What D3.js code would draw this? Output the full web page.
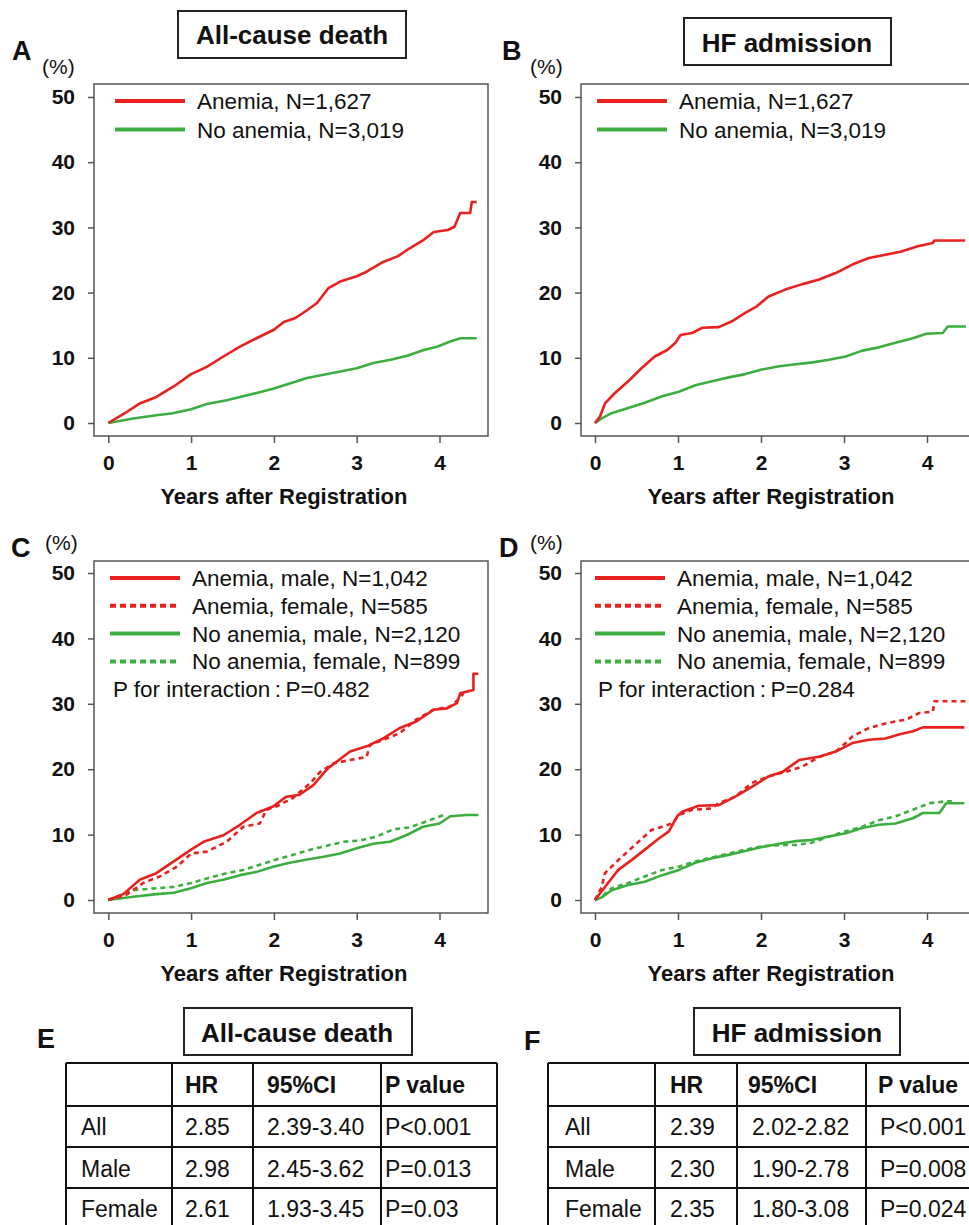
<!DOCTYPE html>
<html>
<head>
<meta charset="utf-8">
<script src="https://cdn.jsdelivr.net/npm/d3@7"></script>
<style>
  body { margin: 0; background: #fff; }
  svg { display: block; }
  text { font-family: "Liberation Sans", Arial, Helvetica, sans-serif; fill: #111; }
  .tick text { font-size: 21px; font-weight: bold; fill: #111; }
</style>
</head>
<body>
<svg id="fig" width="969" height="1225"></svg>
<script>
'use strict';

var yearTicks = [0, 1, 2, 3, 4];
var pctTicks = [0, 10, 20, 30, 40, 50];

// [years, cumulative incidence %]
// A - all-cause death
var deathAnemia = [[0,0],[0.2,1.5],[0.38,3.0],[0.58,4.0],[0.79,5.6],[1.0,7.5],[1.19,8.6],[1.39,10.2],[1.59,11.7],[1.79,13.0],[2.0,14.3],[2.12,15.5],[2.26,16.1],[2.4,17.3],[2.52,18.4],[2.66,20.7],[2.8,21.7],[3.0,22.5],[3.12,23.2],[3.32,24.7],[3.5,25.6],[3.64,26.8],[3.81,28.1],[3.93,29.3],[4.1,29.6],[4.18,30.1],[4.25,32.2],[4.37,32.2],[4.39,33.9],[4.45,33.9]];
var deathNoAnemia = [[0,0],[0.3,0.7],[0.58,1.2],[0.78,1.5],[1.0,2.1],[1.19,2.9],[1.43,3.5],[1.59,4.0],[1.79,4.6],[2.0,5.3],[2.2,6.1],[2.4,6.9],[2.6,7.4],[2.8,7.9],[3.0,8.4],[3.2,9.2],[3.41,9.7],[3.61,10.3],[3.81,11.2],[3.97,11.7],[4.13,12.5],[4.25,13.0],[4.45,13.0]];

// B - HF admission
var hfAnemia = [[0,0],[0.06,1.0],[0.12,3.0],[0.24,4.6],[0.4,6.4],[0.56,8.4],[0.72,10.2],[0.87,11.2],[0.97,12.3],[1.03,13.5],[1.17,13.8],[1.29,14.6],[1.49,14.7],[1.65,15.6],[1.81,16.9],[1.95,17.9],[2.09,19.4],[2.3,20.5],[2.5,21.3],[2.7,22.0],[2.9,23.0],[3.1,24.3],[3.3,25.3],[3.5,25.8],[3.69,26.3],[3.89,27.1],[4.07,27.6],[4.09,28.0],[4.46,28.0]];
var hfNoAnemia = [[0,0],[0.08,0.7],[0.2,1.5],[0.4,2.3],[0.6,3.1],[0.81,4.1],[1.01,4.8],[1.21,5.8],[1.41,6.4],[1.61,7.0],[1.81,7.5],[2.01,8.2],[2.22,8.7],[2.42,9.0],[2.62,9.3],[2.82,9.7],[3.02,10.2],[3.22,11.1],[3.42,11.6],[3.62,12.3],[3.83,13.0],[3.99,13.7],[4.19,13.8],[4.25,14.8],[4.47,14.8]];

// C - all-cause death by sex
var deathAnemiaMale = [[0,0],[0.1,0.5],[0.18,0.9],[0.38,3.1],[0.58,4.1],[0.79,5.9],[1.0,7.7],[1.15,8.9],[1.39,9.9],[1.59,11.5],[1.79,13.3],[1.99,14.3],[2.15,15.8],[2.31,16.1],[2.48,17.6],[2.6,19.4],[2.66,20.2],[2.92,22.7],[3.12,23.5],[3.32,24.7],[3.52,26.3],[3.72,27.3],[3.93,29.1],[4.09,29.3],[4.21,30.1],[4.25,31.6],[4.41,32.1],[4.41,34.6],[4.47,34.6]];
var deathAnemiaFemale = [[0,0],[0.22,0.8],[0.42,2.6],[0.62,3.6],[0.83,5.1],[1.0,7.1],[1.19,7.4],[1.43,8.9],[1.63,11.2],[1.83,11.7],[1.91,13.8],[2.03,14.3],[2.23,15.6],[2.44,17.9],[2.56,19.6],[2.72,20.9],[2.92,21.4],[3.12,21.9],[3.16,23.7],[3.32,24.5],[3.52,25.5],[3.72,27.6],[3.93,29.1],[4.13,29.6],[4.25,30.9],[4.29,31.6]];
var deathNoAnemiaMale = [[0,0],[0.3,0.5],[0.58,0.9],[0.79,1.1],[1.0,1.8],[1.19,2.6],[1.39,3.1],[1.59,3.8],[1.79,4.3],[1.99,5.1],[2.19,5.7],[2.4,6.2],[2.6,6.6],[2.8,7.1],[3.0,7.9],[3.2,8.6],[3.4,8.9],[3.6,9.9],[3.8,11.2],[4.0,11.7],[4.13,12.8],[4.33,13.0],[4.47,13.0]];
var deathNoAnemiaFemale = [[0,0],[0.3,1.5],[0.58,1.8],[0.79,2.0],[1.0,2.6],[1.19,3.3],[1.43,4.1],[1.63,4.6],[1.83,5.4],[2.03,6.2],[2.23,6.9],[2.44,7.7],[2.64,8.3],[2.84,8.9],[3.04,9.1],[3.24,9.7],[3.44,10.8],[3.64,11.1],[3.84,12.0],[4.05,13.0],[4.09,13.0]];

// D - HF admission by sex
var hfAnemiaMale = [[0,0],[0.06,1.0],[0.12,2.0],[0.28,4.6],[0.44,6.1],[0.6,7.7],[0.77,9.4],[0.89,10.5],[0.99,12.8],[1.05,13.5],[1.25,14.4],[1.49,14.5],[1.69,15.8],[1.89,17.3],[2.09,18.9],[2.26,19.6],[2.46,21.4],[2.7,21.9],[2.9,22.7],[3.1,24.0],[3.3,24.5],[3.5,24.7],[3.66,25.3],[3.83,25.8],[3.95,26.4],[4.45,26.4]];
var hfAnemiaFemale = [[0,0],[0.08,2.0],[0.12,4.1],[0.28,6.1],[0.48,8.4],[0.68,10.7],[0.81,11.2],[0.93,11.7],[1.01,13.0],[1.17,13.8],[1.41,14.0],[1.49,14.8],[1.69,15.8],[1.89,17.9],[2.09,18.9],[2.3,19.6],[2.5,20.4],[2.7,21.9],[2.9,22.7],[3.02,24.0],[3.1,25.0],[3.3,26.3],[3.5,27.0],[3.75,27.6],[3.91,28.6],[4.07,28.8],[4.09,30.4],[4.47,30.4]];
var hfNoAnemiaMale = [[0,0],[0.08,0.4],[0.2,1.5],[0.4,2.3],[0.6,2.8],[0.81,3.8],[1.01,4.6],[1.21,5.7],[1.41,6.4],[1.61,6.9],[1.81,7.5],[2.01,8.1],[2.22,8.6],[2.42,9.0],[2.62,9.2],[2.82,9.7],[3.02,10.2],[3.22,11.0],[3.42,11.5],[3.62,11.7],[3.83,12.5],[3.95,13.3],[4.15,13.3],[4.23,14.8],[4.45,14.8]];
var hfNoAnemiaFemale = [[0,0],[0.08,0.5],[0.2,1.8],[0.4,2.6],[0.6,3.6],[0.81,4.6],[1.01,5.1],[1.21,5.9],[1.41,6.5],[1.61,7.1],[1.81,7.7],[2.01,8.2],[2.22,8.4],[2.42,8.4],[2.62,8.8],[2.82,9.7],[3.02,10.5],[3.22,11.2],[3.42,12.2],[3.62,12.8],[3.83,13.8],[4.03,14.8],[4.23,15.1],[4.3,15.1]];

// tables E / F
var tableHeader = ['', 'HR', '95%CI', 'P value'];
var tableRows = ['All', 'Male', 'Female'];
var deathHR = ['2.85', '2.98', '2.61'];
var deathCI = ['2.39-3.40', '2.45-3.62', '1.93-3.45'];
var deathP = ['P<0.001', 'P=0.013', 'P=0.03'];
var hfHR = ['2.39', '2.30', '2.35'];
var hfCI = ['2.02-2.82', '1.90-2.78', '1.80-3.08'];
var hfP = ['P<0.001', 'P=0.008', 'P=0.024'];

var RED = '#e8201e';
var GREEN = '#3cae3f';
var FRAME = '#555';

var svg = d3.select('#fig');
svg.append('rect').attr('width', 969).attr('height', 1225).attr('fill', '#fff');

// boxed title like "All-cause death"
var titleBox = function(box, label, cx, base) {
  svg.append('rect')
    .attr('x', box[0]).attr('y', box[1])
    .attr('width', box[2] - box[0]).attr('height', box[3] - box[1])
    .attr('fill', 'none').attr('stroke', '#222').attr('stroke-width', 2);
  svg.append('text').attr('x', cx).attr('y', base)
    .attr('text-anchor', 'middle').attr('font-size', 26).attr('font-weight', 'bold')
    .text(label);
};

var panelLetter = function(letter, x, y) {
  svg.append('text').attr('x', x).attr('y', y)
    .attr('font-size', 27).attr('font-weight', 'bold').text(letter);
};

var drawKM = function(p) {
  var x = d3.scaleLinear().domain([0, 4]).range(p.xr);
  var y = d3.scaleLinear().domain([0, 50]).range(p.yr);
  var f = p.frame; // left, top, right, bottom
  var g = svg.append('g');

  panelLetter(p.letter, p.letterPos[0], p.letterPos[1]);
  g.append('text').attr('x', p.pctPos[0]).attr('y', p.pctPos[1])
    .attr('font-size', 21).text('(%)');

  g.append('rect')
    .attr('x', f[0]).attr('y', f[1])
    .attr('width', f[2] - f[0]).attr('height', f[3] - f[1])
    .attr('fill', 'none').attr('stroke', FRAME).attr('stroke-width', 1.5);

  var yAxis = g.append('g')
    .attr('transform', 'translate(' + f[0] + ',0)')
    .call(d3.axisLeft(y).tickValues(pctTicks).tickFormat(d3.format('d'))
      .tickSize(6).tickPadding(13));
  var xAxis = g.append('g')
    .attr('transform', 'translate(0,' + f[3] + ')')
    .call(d3.axisBottom(x).tickValues(yearTicks).tickFormat(d3.format('d'))
      .tickSize(7).tickPadding(12));
  [yAxis, xAxis].forEach(function(a) {
    a.attr('font-size', null).attr('font-family', null);
    a.select('.domain').remove();
    a.selectAll('line').attr('stroke', FRAME).attr('stroke-width', 1.5);
  });

  g.append('text')
    .attr('x', (x(0) + x(4)) / 2 + 10).attr('y', f[3] + 68)
    .attr('text-anchor', 'middle').attr('font-size', 22).attr('font-weight', 'bold')
    .text('Years after Registration');

  var line = d3.line()
    .x(function(d) { return x(d[0]); })
    .y(function(d) { return y(d[1]); });

  g.selectAll('path.km').data(p.series).enter()
    .append('path').attr('class', 'km')
    .attr('d', function(s) { return line(s.data); })
    .attr('fill', 'none')
    .attr('stroke', function(s) { return s.color; })
    .attr('stroke-width', 2.6)
    .attr('stroke-linejoin', 'round')
    .attr('stroke-dasharray', function(s) { return s.dotted ? '5,4' : null; });

  // legend, in the order it reads
  var lg = p.legend;
  var items = g.selectAll('g.leg').data(lg.items).enter()
    .append('g').attr('class', 'leg')
    .attr('transform', function(d, i) {
      return 'translate(' + lg.x + ',' + (lg.y + i * lg.step) + ')';
    });
  items.append('line')
    .attr('x1', 0).attr('x2', 70).attr('y1', 0).attr('y2', 0)
    .attr('stroke', function(d) { return d.color; })
    .attr('stroke-width', 4)
    .attr('stroke-dasharray', function(d) { return d.dotted ? '6,4' : null; });
  items.append('text')
    .attr('x', 82).attr('y', 8)
    .attr('font-size', 22.5)
    .text(function(d) { return d.label; });

  if (p.pText) {
    g.append('text')
      .attr('x', lg.x + 3).attr('y', lg.y + lg.items.length * lg.step + 8)
      .attr('font-size', 22.5)
      .text(p.pText);
  }
};

var legendTwo = [
  { label: 'Anemia, N=1,627', color: RED },
  { label: 'No anemia, N=3,019', color: GREEN }
];
var legendFour = [
  { label: 'Anemia, male, N=1,042', color: RED },
  { label: 'Anemia, female, N=585', color: RED, dotted: true },
  { label: 'No anemia, male, N=2,120', color: GREEN },
  { label: 'No anemia, female, N=899', color: GREEN, dotted: true }
];

titleBox([178, 11, 406, 58], 'All-cause death', 292, 44);
titleBox([684, 18, 891, 65], 'HF admission', 787, 52);

drawKM({
  letter: 'A', letterPos: [12, 60], pctPos: [42, 74],
  frame: [94, 84, 488, 436], xr: [108.3, 439.5], yr: [423, 97],
  series: [
    { data: deathNoAnemia, color: GREEN },
    { data: deathAnemia, color: RED }
  ],
  legend: { x: 115, y: 101, step: 28.5, items: legendTwo }
});

drawKM({
  letter: 'B', letterPos: [502, 60], pctPos: [530, 74],
  frame: [581, 84, 980, 436], xr: [595, 927], yr: [423, 97],
  series: [
    { data: hfNoAnemia, color: GREEN },
    { data: hfAnemia, color: RED }
  ],
  legend: { x: 597, y: 101, step: 28.5, items: legendTwo }
});

drawKM({
  letter: 'C', letterPos: [11, 557], pctPos: [45, 550],
  frame: [94, 561, 488, 913], xr: [108.3, 439.5], yr: [900, 573],
  series: [
    { data: deathNoAnemiaFemale, color: GREEN, dotted: true },
    { data: deathNoAnemiaMale, color: GREEN },
    { data: deathAnemiaFemale, color: RED, dotted: true },
    { data: deathAnemiaMale, color: RED }
  ],
  legend: { x: 110, y: 578, step: 27.8, items: legendFour },
  pText: 'P for interaction\u2009:\u2009P=0.482'
});

drawKM({
  letter: 'D', letterPos: [499, 557], pctPos: [530, 550],
  frame: [581, 561, 980, 913], xr: [595, 927], yr: [900, 573],
  series: [
    { data: hfNoAnemiaFemale, color: GREEN, dotted: true },
    { data: hfNoAnemiaMale, color: GREEN },
    { data: hfAnemiaFemale, color: RED, dotted: true },
    { data: hfAnemiaMale, color: RED }
  ],
  legend: { x: 595, y: 578, step: 27.8, items: legendFour },
  pText: 'P for interaction\u2009:\u2009P=0.284'
});

// hazard ratio tables
var drawTable = function(t) {
  var g = svg.append('g');
  panelLetter(t.letter, t.letterPos[0], t.letterPos[1]);
  titleBox(t.box, t.title, t.titleX, 1042);

  var cols = t.cols; // column borders
  var rows = [1063, 1106, 1147, 1188, 1230];
  g.selectAll('line.h').data(rows).enter().append('line')
    .attr('x1', cols[0]).attr('x2', cols[cols.length - 1])
    .attr('y1', function(d) { return d; }).attr('y2', function(d) { return d; })
    .attr('stroke', '#111').attr('stroke-width', 2);
  g.selectAll('line.v').data(cols).enter().append('line')
    .attr('y1', rows[0]).attr('y2', rows[rows.length - 1])
    .attr('x1', function(d) { return d; }).attr('x2', function(d) { return d; })
    .attr('stroke', '#111').attr('stroke-width', 2);

  g.selectAll('text.hd').data(tableHeader).enter().append('text')
    .attr('x', function(d, i) { return t.headX[i]; }).attr('y', 1093)
    .attr('font-size', 23).attr('font-weight', 'bold')
    .text(function(d) { return d; });

  var body = tableRows.map(function(r, i) {
    return [r, t.hr[i], t.ci[i], t.p[i]];
  });
  var baseY = [1135, 1177, 1217];
  body.forEach(function(row, i) {
    g.selectAll('text.r' + i).data(row).enter().append('text')
      .attr('x', function(d, j) { return t.cellX[j]; }).attr('y', baseY[i])
      .attr('font-size', 23)
      .text(function(d) { return d; });
  });
};

drawTable({
  letter: 'E', letterPos: [37, 1048],
  box: [184, 1008, 412, 1055], title: 'All-cause death', titleX: 297,
  cols: [66, 172, 253, 381, 497],
  headX: [81, 185, 267, 385], cellX: [81, 185, 267, 385],
  hr: deathHR, ci: deathCI, p: deathP
});

drawTable({
  letter: 'F', letterPos: [524, 1050],
  box: [694, 1008, 900, 1055], title: 'HF admission', titleX: 797,
  cols: [548, 655, 737, 866, 985],
  headX: [565, 670, 748, 878], cellX: [565, 670, 752, 880],
  hr: hfHR, ci: hfCI, p: hfP
});
</script>
</body>
</html>
